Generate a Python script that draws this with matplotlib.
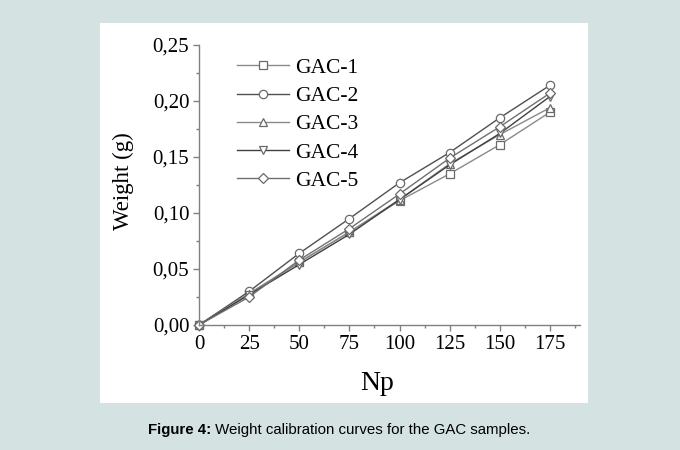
import matplotlib
matplotlib.use("Agg")
import matplotlib.pyplot as plt
from matplotlib.ticker import MultipleLocator, FuncFormatter

np_values = [0, 25, 50, 75, 100, 125, 150, 175]

gac_1 = [0, 0.028, 0.056, 0.083, 0.111, 0.135, 0.161, 0.190]
gac_2 = [0, 0.030, 0.064, 0.095, 0.127, 0.154, 0.185, 0.214]
gac_3 = [0, 0.028, 0.056, 0.083, 0.112, 0.144, 0.170, 0.194]
gac_4 = [0, 0.027, 0.054, 0.081, 0.112, 0.143, 0.171, 0.204]
gac_5 = [0, 0.025, 0.058, 0.086, 0.117, 0.149, 0.177, 0.207]

labels = ['GAC-1', 'GAC-2', 'GAC-3', 'GAC-4', 'GAC-5']
markers = ['s', 'o', '^', 'v', 'D']
line_colors = ['#8a8a8a', '#505050', '#8a8a8a', '#404040', '#707070']

caption_bold = 'Figure 4:'
caption_text = ' Weight calibration curves for the GAC samples.'

serif = 'Liberation Serif'
bg = '#d4e2e1'

fig = plt.figure(figsize=(6.8, 4.5), dpi=100, facecolor=bg)

# white panel behind the chart
panel = fig.add_axes([100 / 680, 1 - 403 / 450, 488 / 680, 380 / 450])
panel.set_facecolor('white')
panel.set_xticks([])
panel.set_yticks([])
for s in panel.spines.values():
    s.set_visible(False)
panel.set_zorder(0)

ax = fig.add_axes([199 / 680, 1 - 325 / 450, 381 / 680, 280 / 450])
ax.set_facecolor('none')
ax.set_zorder(1)

series = [gac_1, gac_2, gac_3, gac_4, gac_5]
for ys, lab, mk, col in zip(series, labels, markers, line_colors):
    ms = 6 if mk != 'D' else 5.5
    ax.plot(np_values, ys, color=col, lw=1.0, marker=mk, ms=ms,
            mfc='white', mec='#6a6a6a', mew=0.9, label=lab, clip_on=False)

ax.set_xlim(0, 190)
ax.set_ylim(0, 0.25)
ax.xaxis.set_major_locator(MultipleLocator(25))
ax.xaxis.set_minor_locator(MultipleLocator(12.5))
ax.yaxis.set_major_locator(MultipleLocator(0.05))
ax.yaxis.set_minor_locator(MultipleLocator(0.025))
ax.yaxis.set_major_formatter(FuncFormatter(lambda v, p: f'{v:.2f}'.replace('.', ',')))
ax.xaxis.set_major_formatter(FuncFormatter(lambda v, p: f'{v:.0f}'))

for s in ['top', 'right']:
    ax.spines[s].set_visible(False)
for s in ['left', 'bottom']:
    ax.spines[s].set_color('#808080')
    ax.spines[s].set_linewidth(1.0)

ax.tick_params(which='major', direction='out', length=4, width=1, color='#808080',
               labelsize=15, pad=3)
ax.tick_params(which='minor', direction='out', length=2, width=1, color='#808080')
for t in ax.get_xticklabels() + ax.get_yticklabels():
    t.set_fontfamily(serif)

leg = ax.legend(loc='upper left', bbox_to_anchor=(0.077, 0.985), frameon=False,
                prop={'family': serif, 'size': 15.5}, handlelength=2.4,
                handletextpad=0.3, labelspacing=0.38, borderaxespad=0)

fig.text(377 / 680, 1 - 383 / 450, 'Np', family=serif, fontsize=20,
         ha='center', va='center', zorder=2)
fig.text(123 / 680, 1 - 181 / 450, 'Weight (g)', family=serif, fontsize=16.5,
         rotation=90, ha='center', va='center', zorder=2)

t1 = fig.text(148 / 680, 1 - 430 / 450, caption_bold, family='Liberation Sans',
              fontsize=10.8, fontweight='bold', ha='left', va='center')
fig.canvas.draw()
bb = t1.get_window_extent()
fig.text(bb.x1 / 680, 1 - 430 / 450, caption_text, family='Liberation Sans',
         fontsize=10.8, ha='left', va='center')

fig.savefig('out.png', dpi=100, facecolor=bg)
